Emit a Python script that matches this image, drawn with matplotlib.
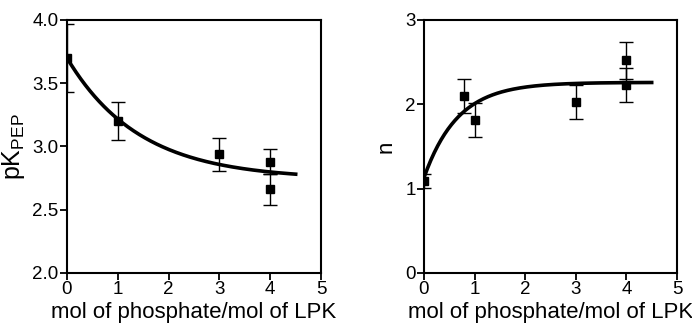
import numpy as np
import matplotlib
matplotlib.use("Agg")
import matplotlib.pyplot as plt

plt.rcParams['font.family'] = ['Liberation Sans', 'DejaVu Sans']
plt.rcParams['mathtext.fontset'] = 'custom'
plt.rcParams['mathtext.rm'] = 'Liberation Sans'
plt.rcParams['mathtext.it'] = 'Liberation Sans'

# left panel: pK_PEP vs phosphate
x_pk = [0, 1, 3, 4, 4]
y_pk = [3.70, 3.20, 2.94, 2.88, 2.66]
err_pk = [0.27, 0.15, 0.13, 0.10, 0.12]
# exponential fit: plateau + span*exp(-k*x)
fit_pk = (2.74, 0.96, 0.70)

# right panel: Hill coefficient n vs phosphate
x_n = [0, 0.8, 1, 3, 4, 4]
y_n = [1.09, 2.10, 1.81, 2.03, 2.52, 2.23]
err_n = [0.08, 0.20, 0.20, 0.20, 0.22, 0.20]
fit_n = (2.26, -1.13, 1.5)

xlabel = "mol of phosphate/mol of LPK"

fig = plt.figure(figsize=(6.92, 3.26), dpi=100)
ax1 = fig.add_axes([0.0968, 0.1626, 0.3672, 0.7761])
ax2 = fig.add_axes([0.6127, 0.1626, 0.3656, 0.7761])

xs = np.linspace(0, 4.5, 200)

def draw(ax, x, y, e, fit):
    ax.errorbar(x, y, yerr=e, fmt='s', color='black', ms=5.6, elinewidth=1.0,
                capsize=5, capthick=1.0, zorder=3)
    p, s, k = fit
    ax.plot(xs, p + s * np.exp(-k * xs), color='black', lw=2.6, zorder=4)
    for sp in ax.spines.values():
        sp.set_linewidth(1.5)
    ax.tick_params(direction='out', width=1.3, length=5, labelsize=13.5,
                   top=False, right=False, pad=1)
    ax.set_xlim(0, 5)
    ax.set_xticks(range(6))
    ax.set_xlabel(xlabel, fontsize=16, labelpad=3)

draw(ax1, x_pk, y_pk, err_pk, fit_pk)
ax1.set_ylim(2.0, 4.0)
ax1.set_yticks([2.0, 2.5, 3.0, 3.5, 4.0])
ax1.set_yticklabels(['2.0', '2.5', '3.0', '3.5', '4.0'])
ax1.set_ylabel('pK$_{\\mathrm{PEP}}$', fontsize=18, labelpad=4)

draw(ax2, x_n, y_n, err_n, fit_n)
ax2.set_ylim(0, 3)
ax2.set_yticks([0, 1, 2, 3])
ax2.set_ylabel('n', fontsize=16, labelpad=6)

fig.savefig('out.png', dpi=100)
